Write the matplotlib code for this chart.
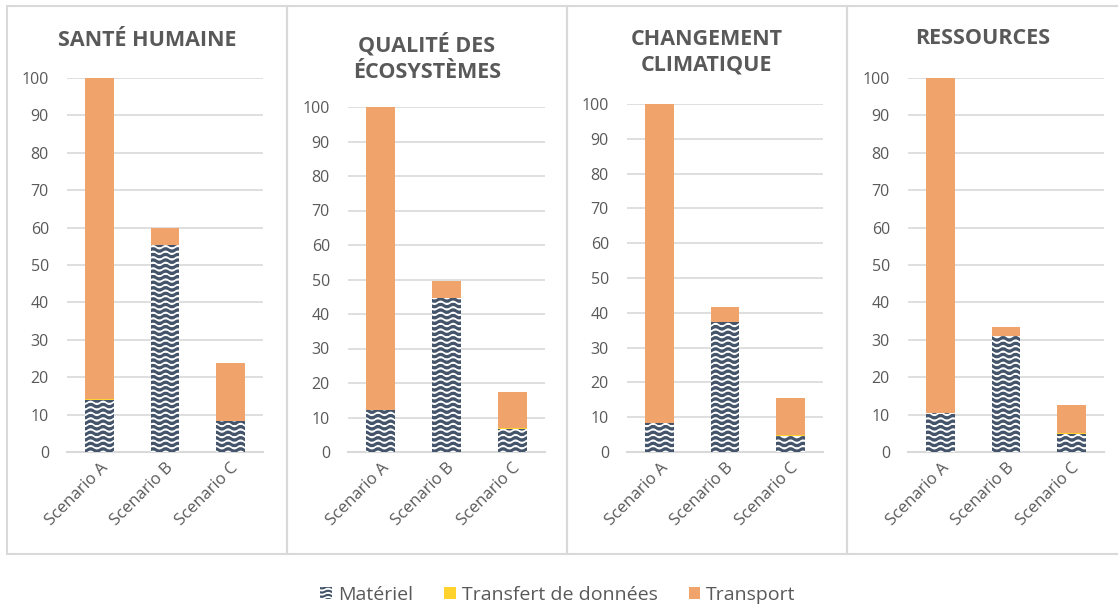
import numpy as np
import matplotlib
matplotlib.use("Agg")
import matplotlib.pyplot as plt
import matplotlib.hatch as mhatch
from matplotlib.path import Path
from matplotlib.patches import Rectangle, Patch

plt.rcParams['font.family'] = ['Open Sans', 'DejaVu Sans']

# ---------------- data ----------------
titles = ["SANTÉ HUMAINE", "QUALITÉ DES\nÉCOSYSTÈMES", "CHANGEMENT\nCLIMATIQUE", "RESSOURCES"]
scenarios = ["Scenario A", "Scenario B", "Scenario C"]
series_names = ["Matériel", "Transfert de données", "Transport"]

materiel_sante = [14.0, 55.3, 8.3]
transfert_sante = [0.05, 0.05, 0.1]
transport_sante = [86.0, 4.6, 15.4]

materiel_eco = [12.2, 44.5, 6.6]
transfert_eco = [0.05, 0.05, 0.4]
transport_eco = [87.8, 5.0, 10.4]

materiel_climat = [8.4, 37.4, 4.7]
transfert_climat = [0.05, 0.05, 0.1]
transport_climat = [91.6, 4.1, 10.8]

materiel_ress = [10.3, 31.0, 4.9]
transfert_ress = [0.05, 0.05, 0.1]
transport_ress = [89.7, 2.5, 7.5]

yticks = [0, 10, 20, 30, 40, 50, 60, 70, 80, 90, 100]

panels = [
    (materiel_sante, transfert_sante, transport_sante),
    (materiel_eco, transfert_eco, transport_eco),
    (materiel_climat, transfert_climat, transport_climat),
    (materiel_ress, transfert_ress, transport_ress),
]

# ---------------- custom wavy hatch ----------------
class WaveHatch(mhatch.HatchPatternBase):
    npts = 121

    def __init__(self, hatch, density):
        self.num_rows = int(hatch.count('~') * density)
        self.num_vertices = self.num_rows * self.npts

    def set_vertices_and_codes(self, vertices, codes):
        steps, stepsize = np.linspace(0.0, 1.0, self.num_rows, False, retstep=True)
        steps += stepsize / 2.0
        xs = np.linspace(0.0, 1.0, self.npts)
        amp = stepsize * 0.25
        for i, s in enumerate(steps):
            sl = slice(i * self.npts, (i + 1) * self.npts)
            vertices[sl, 0] = xs
            vertices[sl, 1] = s + amp * np.sin(2 * np.pi * 8 * xs)
            codes[sl] = Path.LINETO
            codes[i * self.npts] = Path.MOVETO

mhatch._hatch_types.append(WaveHatch)
plt.rcParams['hatch.linewidth'] = 1.2

col_mat = "#44546A"
col_trf = "#FFD22E"
col_trp = "#F0A46C"
grid_col = "#D9D9D9"
text_col = "#595959"

W, H = 1118, 607
fig = plt.figure(figsize=(W / 100, H / 100), dpi=100)

# panel geometry in pixels
box_x = [7, 287, 567, 847, 1125]
box_top, box_bot = 6, 554
ax_x = [(67, 263), (348, 545), (627, 823), (908, 1104)]
ax_top = [78, 107, 104, 78]
ax_bot = 452
title_y = [40, 58, 52, 38]

for i in range(4):
    fig.patches.append(Rectangle((box_x[i] / W, 1 - box_bot / H),
                                 (box_x[i + 1] - box_x[i]) / W, (box_bot - box_top) / H,
                                 transform=fig.transFigure, fill=False,
                                 edgecolor=grid_col, linewidth=1.5, zorder=0))

for i, (mat, trf, trp) in enumerate(panels):
    x0, x1 = ax_x[i]
    ax = fig.add_axes([x0 / W, 1 - ax_bot / H, (x1 - x0) / W, (ax_bot - ax_top[i]) / H])
    x = np.arange(len(scenarios))
    mat = np.array(mat); trf = np.array(trf); trp = np.array(trp)
    ax.bar(x, mat, width=0.44, color=col_mat, edgecolor="white", linewidth=0,
           hatch="~~~", zorder=3)
    ax.bar(x, trf, width=0.44, bottom=mat, color=col_trf, linewidth=0, zorder=3)
    ax.bar(x, trp, width=0.44, bottom=mat + trf, color=col_trp, linewidth=0, zorder=3)
    ax.set_xlim(-0.5, 2.5)
    ax.set_ylim(0, 100)
    ax.set_yticks(yticks)
    ax.yaxis.grid(True, color=grid_col, linewidth=1.2, zorder=0)
    ax.set_axisbelow(True)
    for s in ["top", "right", "left"]:
        ax.spines[s].set_visible(False)
    ax.spines["bottom"].set_color(grid_col)
    ax.spines["bottom"].set_linewidth(1.5)
    ax.tick_params(axis="both", length=0, colors=text_col, labelsize=11.5)
    ax.tick_params(axis="y", pad=13)
    ax.set_xticks(x)
    ax.set_xticklabels(scenarios, rotation=45, ha="right", rotation_mode="anchor",
                       fontsize=12, color=text_col)
    ax.tick_params(axis="x", pad=6)
    ax.set_facecolor("none")
    cx = (box_x[i] + box_x[i + 1] if i < 3 else box_x[i] + 1118) / 2
    fig.text(cx / W, 1 - title_y[i] / H, titles[i], ha="center", va="center",
             fontsize=15.5, fontweight="bold", color=text_col, linespacing=1.3)

handles = [Patch(facecolor=col_mat, edgecolor="white", linewidth=0, hatch="~~~~"),
           Patch(facecolor=col_trf, linewidth=0),
           Patch(facecolor=col_trp, linewidth=0)]
fig.legend(handles, series_names, loc="center", bbox_to_anchor=(558 / W, 1 - 595 / H),
           ncol=3, frameon=False, fontsize=14, labelcolor=text_col,
           handlelength=0.6, handleheight=0.6, handletextpad=0.3, columnspacing=1.6)

fig.savefig("out.png", dpi=100, facecolor="white")
